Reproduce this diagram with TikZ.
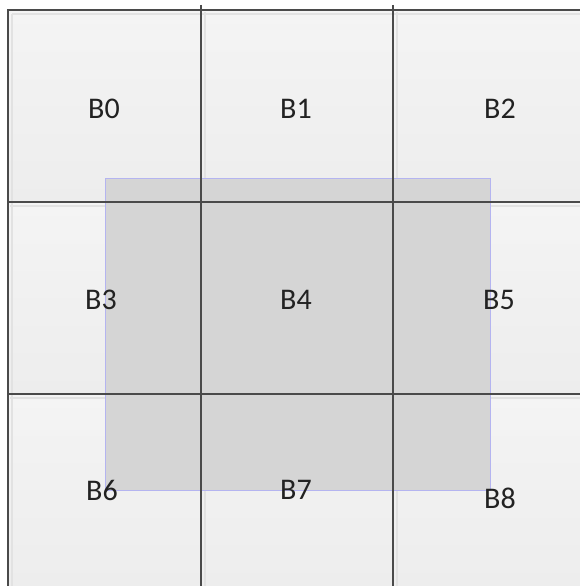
\documentclass[tikz,border=0pt]{standalone}
\usepackage{fontspec}
\setmainfont{Carlito}
\definecolor{gridline}{HTML}{4A4A4A}
\definecolor{celltop}{HTML}{F4F4F4}
\definecolor{cellbot}{HTML}{EDEDED}
\definecolor{boxfill}{HTML}{D5D5D5}
\definecolor{boxedge}{HTML}{B4B4F0}
\definecolor{labtext}{HTML}{222222}
\definecolor{shadowline}{HTML}{E2E2E2}
\tikzset{
  cell/.style={top color=celltop, bottom color=cellbot, draw=none},
  gline/.style={draw=gridline, line width=1.6pt},
  sline/.style={draw=shadowline, line width=1.5pt},
  region/.style={fill=boxfill, draw=boxedge, line width=0.9pt},
  lab/.style={font=\fontsize{30}{33}\selectfont, text=labtext, inner sep=0pt}
}
\begin{document}
\begin{tikzpicture}[x=1pt,y=-1pt]
\useasboundingbox (0,0) rectangle (580,586);
\fill[white] (0,0) rectangle (580,586);
% cells
\foreach \r/\ya/\yb in {0/10/202,1/202/394,2/394/586}{
  \foreach \c/\xa/\xb in {0/8/201,1/201/393,2/393/580}{
    \shade[cell] (\xa,\ya) rectangle (\xb,\yb);
  }
}
% shadow lines
\foreach \x in {205,397}{ \draw[sline] (\x,12) -- (\x,586); }
\foreach \y in {206,398}{ \draw[sline] (10,\y) -- (580,\y); }
\draw[sline] (12,14) -- (12,586);
\draw[sline] (12,14) -- (580,14);
% overlapping region
\node[region, minimum width=385pt, minimum height=312pt, inner sep=0pt, anchor=north west] (reg) at (105,178) {};
% grid lines
\coordinate (tl) at (8,10);
\coordinate (tr) at (580,10);
\coordinate (bl) at (8,586);
\coordinate (v1t) at (201,5);
\coordinate (v1b) at (201,586);
\coordinate (v2t) at (393,5);
\coordinate (v2b) at (393,586);
\coordinate (h1l) at (8,202);
\coordinate (h1r) at (580,202);
\coordinate (h2l) at (8,394);
\coordinate (h2r) at (580,394);
\draw[gline] (bl) -- (tl) -- (tr);
\draw[gline] (v1t) -- (v1b);
\draw[gline] (v2t) -- (v2b);
\draw[gline] (h1l) -- (h1r);
\draw[gline] (h2l) -- (h2r);
% labels
\node[lab] (b0) at (104,109) {B0};
\node[lab] (b1) at (296,109) {B1};
\node[lab] (b2) at (500,109) {B2};
\node[lab] (b3) at (101,300) {B3};
\node[lab] (b4) at (296,300) {B4};
\node[lab] (b5) at (499,300) {B5};
\node[lab] (b6) at (102,490) {B6};
\node[lab] (b7) at (296,490) {B7};
\node[lab] (b8) at (500,498) {B8};
\end{tikzpicture}
\end{document}
